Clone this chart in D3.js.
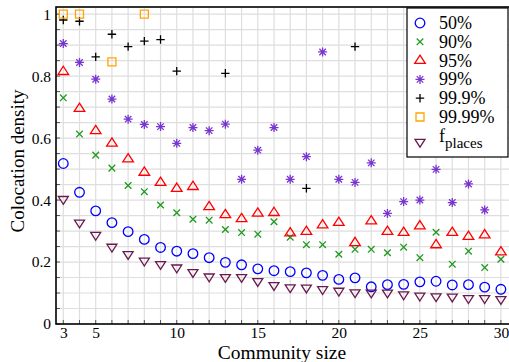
<!DOCTYPE html>
<html>
<head>
<meta charset="utf-8">
<style>
  body { margin: 0; background: #fff; }
  svg text { font-family: "Liberation Serif", "Times New Roman", serif; fill: #000; }
</style>
<script src="https://cdn.jsdelivr.net/npm/d3@7"></script>
</head>
<body>
<svg id="chart" width="509" height="362"></svg>
<script>
// community sizes on the x axis
var sizes = [3,4,5,6,7,8,9,10,11,12,13,14,15,16,17,18,19,20,21,22,23,24,25,26,27,28,29,30];

// colocation density per percentile (null = no point drawn)
var p50 = [0.518,0.425,0.365,0.327,0.298,0.273,0.247,0.235,0.227,0.214,0.199,0.191,0.178,0.172,
           0.169,0.165,0.157,0.144,0.149,0.120,0.127,0.128,0.136,0.138,0.126,0.127,0.119,0.112];
var p90 = [0.730,0.613,0.545,0.503,0.447,0.427,0.384,0.359,0.338,0.335,0.305,0.295,0.290,0.330,
           0.280,0.256,0.256,0.225,0.241,0.241,0.230,0.248,0.214,0.296,0.193,0.235,0.182,0.209];
var p95 = [0.814,0.695,0.623,0.583,0.532,0.489,0.456,0.437,0.443,0.378,0.352,0.339,0.357,0.359,
           0.293,0.298,0.319,0.327,0.262,0.332,0.298,0.295,0.316,0.255,0.295,0.282,0.287,0.232];
var p99 = [0.905,0.844,0.790,0.726,0.661,0.644,0.637,0.583,0.634,0.624,0.645,0.467,0.561,0.634,
           0.467,0.540,0.878,0.467,0.457,0.520,0.357,0.395,0.400,0.499,0.392,0.452,0.368,null];
var p999 = [0.981,0.977,0.862,0.935,0.895,0.913,0.918,0.816,null,null,0.809,null,null,null,
            null,0.438,null,null,0.895,null,null,null,null,null,null,null,null,null];
var p9999 = [1.0,1.0,null,0.846,null,1.0,null,null,null,null,null,null,null,null,
             null,null,null,null,null,null,null,null,null,null,null,null,null,null];
var fplaces = [0.403,0.327,0.287,0.249,0.225,0.204,0.193,0.182,0.167,0.153,0.151,0.151,0.138,0.125,
               0.118,0.117,0.112,0.107,0.102,0.101,0.101,0.095,0.091,0.089,0.088,0.083,0.083,0.080];

var xTicks = [3,5,10,15,20,25,30];
var yTicks = [0,0.2,0.4,0.6,0.8,1];

var series = [
  {name:"50%",    vals:p50,    mark:"circle", color:"#0000ff", size:4.8},
  {name:"90%",    vals:p90,    mark:"x",      color:"#1f9a1f", size:3.3},
  {name:"95%",    vals:p95,    mark:"up",     color:"#ff0000", size:5.3},
  {name:"99%",    vals:p99,    mark:"star",   color:"#7a35d0", size:4.5},
  {name:"99.9%",  vals:p999,   mark:"plus",   color:"#000000", size:4.2},
  {name:"99.99%", vals:p9999,  mark:"square", color:"#ffa500", size:4.0},
  {name:"fplaces",vals:fplaces,mark:"down",   color:"#6a1a4e", size:5.0}
];

var L = 56, R = 509, T = 7, B = 324;
var svg = d3.select("#chart");

var x = d3.scaleLinear().domain([2.55, 30.5]).range([L, R]);
var y = d3.scaleLinear().domain([0, 1.023]).range([B, T]);

function markPath(t, s) {
  var w, h, d;
  switch (t) {
    case "circle": return "M"+s+",0A"+s+","+s+" 0 1,1 "+(-s)+",0A"+s+","+s+" 0 1,1 "+s+",0Z";
    case "x": return "M"+(-s)+","+(-s)+"L"+s+","+s+"M"+(-s)+","+s+"L"+s+","+(-s);
    case "plus": return "M"+(-s)+",0L"+s+",0M0,"+(-s)+"L0,"+s;
    case "star":
      d = s*0.72;
      return "M"+(-s)+",0L"+s+",0M0,"+(-s)+"L0,"+s+"M"+(-d)+","+(-d)+"L"+d+","+d+"M"+(-d)+","+d+"L"+d+","+(-d);
    case "square": return "M"+(-s)+","+(-s)+"H"+s+"V"+s+"H"+(-s)+"Z";
    case "up":
      w = s; h = s*Math.sqrt(3)*0.9;
      return "M0,"+(-2*h/3)+"L"+w+","+(h/3)+"L"+(-w)+","+(h/3)+"Z";
    case "down":
      w = s; h = s*Math.sqrt(3)*0.9;
      return "M0,"+(2*h/3)+"L"+w+","+(-h/3)+"L"+(-w)+","+(-h/3)+"Z";
  }
}

// grid
var grid = svg.append("g");
grid.selectAll("line.v").data(d3.range(3, 31)).enter().append("line")
  .attr("x1", function(d){ return x(d); }).attr("x2", function(d){ return x(d); })
  .attr("y1", T).attr("y2", B)
  .attr("stroke", "#dedede").attr("stroke-width", 1.2);
grid.selectAll("line.h").data(d3.range(1, 21).map(function(i){ return i*0.05; })).enter().append("line")
  .attr("x1", L).attr("x2", R)
  .attr("y1", function(d){ return y(d); }).attr("y2", function(d){ return y(d); })
  .attr("stroke", "#dedede").attr("stroke-width", 1.2);

// axes
var xAxis = svg.append("g").attr("transform", "translate(0," + B + ")")
  .call(d3.axisBottom(x).tickValues(xTicks).tickSize(0).tickPadding(3).tickFormat(d3.format("d")));
var yAxis = svg.append("g").attr("transform", "translate(" + L + ",0)")
  .call(d3.axisLeft(y).tickValues(yTicks).tickSize(0).tickPadding(5)
    .tickFormat(function(d){ return (d === 0 || d === 1) ? d : d.toFixed(1); }));
[xAxis, yAxis].forEach(function(a){
  a.select(".domain").remove();
  a.selectAll("text").style("font-size", "15.5px").style("font-family", "Liberation Serif, serif");
});

// inward minor ticks
svg.append("g").selectAll("line").data(d3.range(3, 31)).enter().append("line")
  .attr("x1", function(d){ return x(d); }).attr("x2", function(d){ return x(d); })
  .attr("y1", B).attr("y2", B - 4).attr("stroke", "#555");
svg.append("g").selectAll("line").data(d3.range(0, 21).map(function(i){ return i*0.05; })).enter().append("line")
  .attr("x1", L).attr("x2", L + 4)
  .attr("y1", function(d){ return y(d); }).attr("y2", function(d){ return y(d); }).attr("stroke", "#555");

// frame
svg.append("rect").attr("x", L).attr("y", T).attr("width", R - L + 2).attr("height", B - T)
  .attr("fill", "none").attr("stroke", "#000").attr("stroke-width", 1.6);

// points
series.forEach(function(s){
  var pts = sizes.map(function(c, i){ return {c:c, v:s.vals[i]}; })
    .filter(function(p){ return p.v != null; });
  svg.append("g").selectAll("path").data(pts).enter().append("path")
    .attr("transform", function(p){ return "translate(" + x(p.c) + "," + y(p.v) + ")"; })
    .attr("d", markPath(s.mark, s.size))
    .attr("fill", "none").attr("stroke", s.color).attr("stroke-width", 1.3);
});

// axis titles
svg.append("text").attr("x", 282).attr("y", 359).attr("text-anchor", "middle")
  .style("font-size", "19.5px").text("Community size");
svg.append("text").attr("transform", "translate(24,161) rotate(-90)").attr("text-anchor", "middle")
  .style("font-size", "19px").text("Colocation density");

// legend
var lg = svg.append("g");
lg.append("rect").attr("x", 407).attr("y", 8).attr("width", 101).attr("height", 149)
  .attr("fill", "#fff").attr("stroke", "#000").attr("stroke-width", 1.2);
series.forEach(function(s, i){
  var cy = i < 6 ? 23 + i*18.8 : 142;
  lg.append("path").attr("transform", "translate(420," + cy + ")")
    .attr("d", markPath(s.mark, s.size)).attr("fill", "none")
    .attr("stroke", s.color).attr("stroke-width", 1.3);
  var t = lg.append("text").attr("x", 439).attr("y", cy + 6).style("font-size", "18px");
  if (s.name === "fplaces") {
    t.attr("y", 142);
    t.append("tspan").text("f");
    t.append("tspan").attr("dy", 6).style("font-size", "15px").text("places");
  } else {
    t.text(s.name);
  }
});
</script>
</body>
</html>
